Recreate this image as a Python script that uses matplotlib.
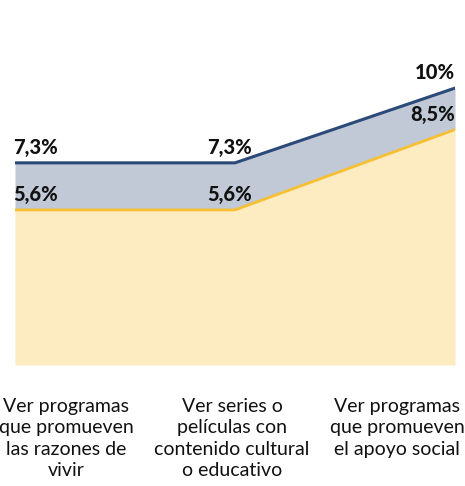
import numpy as np
import matplotlib.pyplot as plt

categories = ["Ver programas\nque promueven\nlas razones de\nvivir",
              "Ver series o\npelículas con\ncontenido cultural\no educativo",
              "Ver programas\nque promueven\nel apoyo social"]
lower = [5.6, 5.6, 8.5]
upper = [7.3, 7.3, 10.0]
lower_labels = ["5,6%", "5,6%", "8,5%"]
upper_labels = ["7,3%", "7,3%", "10%"]

plt.rcParams['font.family'] = ['Lato', 'DejaVu Sans']

fig = plt.figure(figsize=(4.65, 4.86), dpi=100)
ax = fig.add_axes([15 / 465, 121 / 486, 440 / 465, 360 / 486])
x = np.arange(len(categories))

ax.fill_between(x, 0, lower, color="#fdebc2", lw=0)
ax.fill_between(x, lower, upper, color="#c0c9d5", lw=0)
ax.plot(x, lower, color="#f7c033", lw=2)
ax.plot(x, upper, color="#2b4a78", lw=2.2)

ax.set_xlim(0, 2)
ax.set_ylim(0, 13)
ax.axis("off")

has = ["left", "center", "right"]
offs = [-0.01, -0.025, 0]
for i in range(3):
    ax.text(x[i] + offs[i], upper[i] + 0.22, upper_labels[i], ha=has[i], va="bottom",
            fontsize=14.5, fontweight="black", color="#111111")
    ax.text(x[i] + offs[i], lower[i] + 0.22, lower_labels[i], ha=has[i], va="bottom",
            fontsize=14.5, fontweight="black", color="#111111")

for cx, lab in zip([66, 232, 397], categories):
    fig.text(cx / 465, 1 - 398 / 486, lab, ha="center", va="top", fontsize=14,
             color="#111111", linespacing=1.32)

fig.savefig("out.png", dpi=100)
